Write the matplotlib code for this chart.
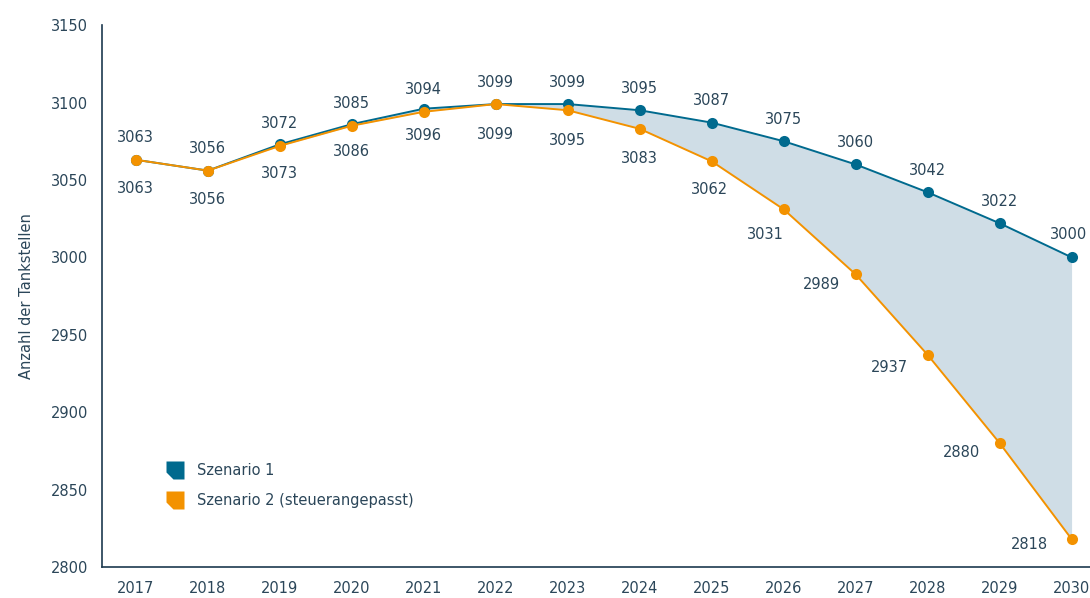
import matplotlib
matplotlib.use("Agg")
import matplotlib.pyplot as plt
from matplotlib.path import Path

plt.rcParams["font.family"] = ["DejaVu Sans"]

years = list(range(2017, 2031))
szenario1 = [3063, 3056, 3073, 3086, 3096, 3099, 3099, 3095, 3087, 3075, 3060, 3042, 3022, 3000]
szenario2 = [3063, 3056, 3072, 3085, 3094, 3099, 3095, 3083, 3062, 3031, 2989, 2937, 2880, 2818]
legend_labels = ["Szenario 1", "Szenario 2 (steuerangepasst)"]
yticks = [2800, 2850, 2900, 2950, 3000, 3050, 3100, 3150]

BLUE = "#006a8e"
ORANGE = "#f39200"
FILL = "#cfdde6"
TEXT = "#2b4659"
AXIS = "#1d3a4f"
FS = 10.5

# label offsets in pixels (dx, dy), per point
off1 = [(0, -29), (0, -29), (0, -29), (0, -27), (0, -27), (0, -30), (0, 22),
        (0, 22), (0, 22), (0, 22), (0, 22), (0, 22), (0, 22), (-3, 23)]
off2 = [(0, 22), (0, 22), (0, 22), (0, 22), (0, 22), (0, 22), (0, -30),
        (0, -30), (-2, -28), (-18, -25), (-34, -10), (-38, -13), (-38, -9), (-42, -5)]

fig = plt.figure(figsize=(10.9, 5.98), dpi=100)
ax = fig.add_axes([0.0936, 0.052, 0.906, 0.906])

ax.fill_between(years, szenario1, szenario2, color=FILL, lw=0, zorder=1)
ax.plot(years, szenario1, color=BLUE, lw=1.4, marker="o", ms=8, mec="none", zorder=3)
ax.plot(years, szenario2, color=ORANGE, lw=1.4, marker="o", ms=8, mec="none", zorder=4)

for x, y, (dx, dy) in zip(years, szenario1, off1):
    ax.annotate(str(y), (x, y), xytext=(dx, dy), textcoords="offset pixels",
                ha="center", va="center", fontsize=FS, color=TEXT)
for x, y, (dx, dy) in zip(years, szenario2, off2):
    ax.annotate(str(y), (x, y), xytext=(dx, dy), textcoords="offset pixels",
                ha="center", va="center", fontsize=FS, color=TEXT)

ax.set_xlim(2016.53, 2030.25)
ax.set_ylim(2800, 3150)
ax.set_xticks(years)
ax.set_yticks(yticks)
ax.tick_params(length=0, labelsize=FS, labelcolor=TEXT)
ax.tick_params(axis="x", pad=10)
ax.tick_params(axis="y", pad=10)
for s in ["top", "right"]:
    ax.spines[s].set_visible(False)
for s in ["left", "bottom"]:
    ax.spines[s].set_color(AXIS)
    ax.spines[s].set_linewidth(1.2)
ax.set_ylabel("Anzahl der Tankstellen", fontsize=FS, color=TEXT, labelpad=12)

# legend marker: square with cut bottom-left corner
cut = Path([(-1, -0.2), (-1, 1), (1, 1), (1, -1), (-0.2, -1), (-1, -0.2)],
           [Path.MOVETO, Path.LINETO, Path.LINETO, Path.LINETO, Path.LINETO, Path.CLOSEPOLY])
h1 = plt.Line2D([], [], ls="none", marker=cut, ms=13, color=BLUE, mec="none")
h2 = plt.Line2D([], [], ls="none", marker=cut, ms=13, color=ORANGE, mec="none")
leg = ax.legend([h1, h2], legend_labels, loc="lower left", bbox_to_anchor=(0.052, 0.085),
                frameon=False, fontsize=FS, handletextpad=0.9, handlelength=1.2,
                labelspacing=1.0)
for t in leg.get_texts():
    t.set_color(TEXT)

fig.savefig("out.png", dpi=100)
